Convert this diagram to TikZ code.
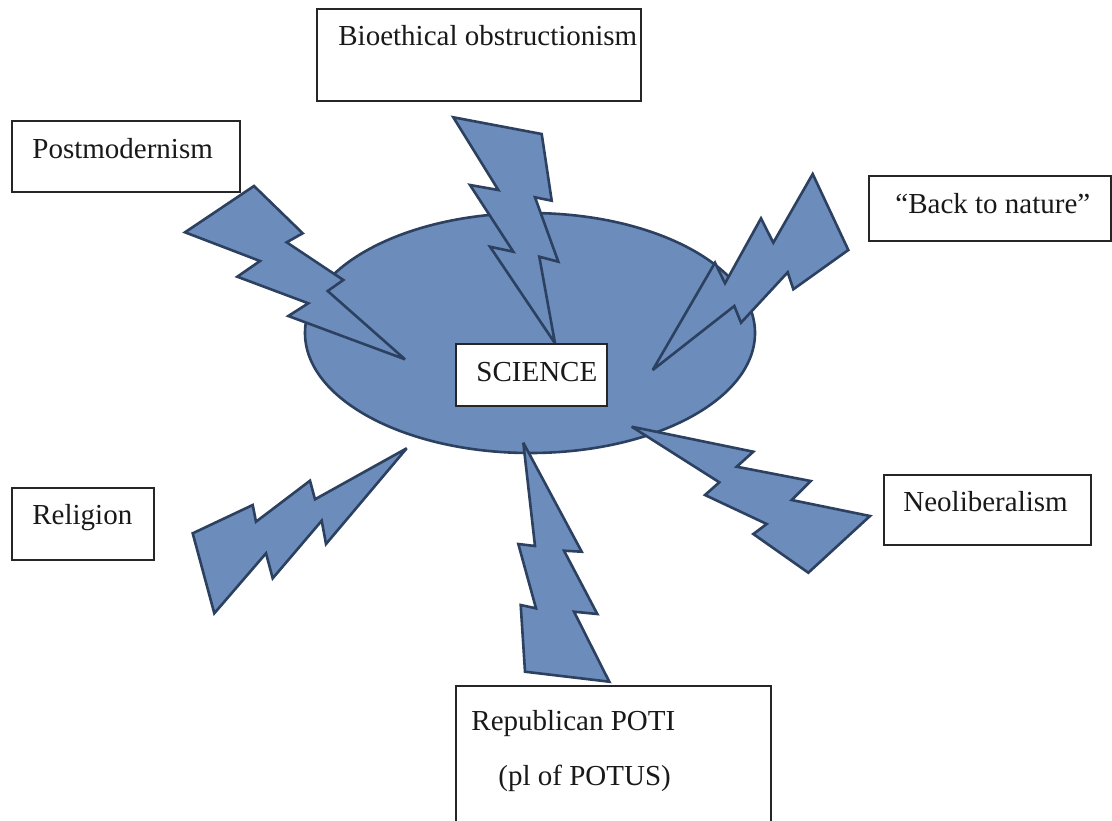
\documentclass[tikz,border=0pt]{standalone}
\usepackage{fontspec}
\setmainfont{Liberation Serif}
\usetikzlibrary{shapes.geometric}
\definecolor{boltfill}{RGB}{108,140,188}
\definecolor{boltline}{RGB}{44,64,96}
\tikzset{
  bolt/.style={fill=boltfill, draw=boltline, line width=1.3pt, line join=miter, miter limit=4},
  tbox/.style={draw=black!85, line width=0.8pt, fill=white, rectangle, inner sep=0pt, anchor=north west},
  lbl/.style={inner sep=0pt, anchor=base west, font=\fontsize{14.5}{17.4}\selectfont, text=black!90}
}
\begin{document}
\begin{tikzpicture}[x=0.5pt, y=-0.5pt]
\useasboundingbox (0,0) rectangle (1112,820);
\clip (0,0) rectangle (1112,820);
\fill[white] (0,0) rectangle (1112,820);

% central ellipse
\node[ellipse, fill=boltfill, draw=boltline, line width=1.3pt, minimum width=225pt, minimum height=120pt, inner sep=0pt] (core) at (530,333) {};

% Postmodernism bolt
\draw[bolt] (185,232.3) -- (254,186) -- (302.7,233.3) -- (286.7,242.3) -- (343.3,280) -- (327.7,291) -- (405,359.3) -- (288.3,316) -- (308.3,303.3) -- (237.3,276.7) -- (260,261) -- cycle;
% Bioethical bolt
\draw[bolt] (453.3,117.3) -- (541.7,134) -- (551.7,200.7) -- (535,197.3) -- (558.3,261.7) -- (539.3,256.7) -- (555,343.3) -- (490,246.7) -- (513.3,251.7) -- (470,185) -- (498.3,190) -- cycle;
% Back to nature bolt
\draw[bolt] (652.7,370) -- (715,262.7) -- (725,283.3) -- (761,218.3) -- (773.3,242.7) -- (812.7,174) -- (848.3,250) -- (793.3,289.3) -- (787.7,272.3) -- (741,322.7) -- (734.3,306) -- cycle;
% Religion bolt
\draw[bolt] (192.7,533.3) -- (252.7,505) -- (256,521.7) -- (310,480.7) -- (315,499.3) -- (406.7,448.3) -- (326,544) -- (321.7,520.7) -- (272.7,578.3) -- (266,553.3) -- (214.3,613.3) -- cycle;
% Republican bolt
\draw[bolt] (523.3,442.7) -- (581.7,551.7) -- (564,550.7) -- (597.3,614) -- (574,611.7) -- (609.3,681.7) -- (525,671.7) -- (520.7,605) -- (536,608.3) -- (518.3,544) -- (535,546) -- cycle;
% Neoliberalism bolt
\draw[bolt] (631.7,426.7) -- (753.3,451.7) -- (736.7,466.7) -- (810.7,481) -- (791.7,500) -- (870,516) -- (808.3,572.7) -- (753.3,534) -- (766.7,524) -- (705,495) -- (719.3,482.3) -- cycle;

% boxes
\node[tbox, minimum width=162pt, minimum height=46pt] (bioB) at (316,8) {};
\node[lbl] (bioT) at (338,45) {Bioethical obstructionism};

\node[tbox, minimum width=114pt, minimum height=35.5pt] (postB) at (11,120) {};
\node[lbl] (postT) at (32,158) {Postmodernism};

\node[tbox, minimum width=121pt, minimum height=32.5pt] (backB) at (868,175) {};
\node[lbl] (backT) at (895,213) {“Back to nature”};

\node[tbox, minimum width=75.5pt, minimum height=31pt] (sciB) at (455,343) {};
\node[lbl] (sciT) at (476,381) {SCIENCE};

\node[tbox, minimum width=71pt, minimum height=36pt] (relB) at (11,487) {};
\node[lbl] (relT) at (32,524) {Religion};

\node[tbox, minimum width=103.5pt, minimum height=35pt] (neoB) at (883,474) {};
\node[lbl] (neoT) at (903,511) {Neoliberalism};

\node[tbox, minimum width=157.5pt, minimum height=80pt] (repB) at (455,685) {};
\node[lbl] (repT1) at (471,730) {Republican POTI};
\node[lbl] (repT2) at (498,785) {(pl of POTUS)};
\end{tikzpicture}
\end{document}
